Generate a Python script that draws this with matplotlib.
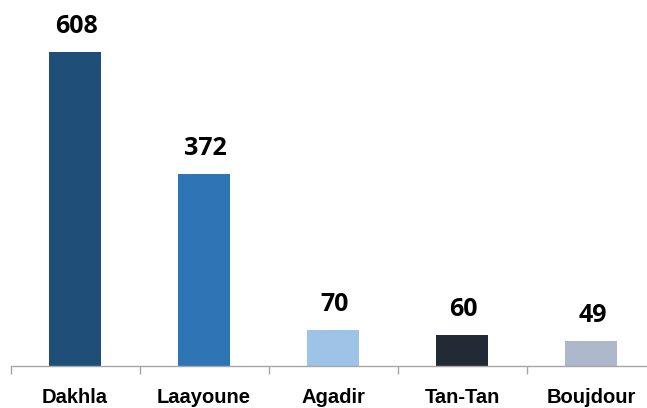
import numpy as np
import matplotlib.pyplot as plt

# categories and values
regions = ['Dakhla', 'Laayoune', 'Agadir', 'Tan-Tan', 'Boujdour']
counts = [608, 372, 70, 60, 49]
colors = ['#1F4E79', '#2E75B6', '#9DC3E6', '#222A35', '#ADB9CA']

fig = plt.figure(figsize=(6.47, 4.08), dpi=100)
ax = fig.add_axes([10.5 / 647, 42 / 408, 645 / 647, 366 / 408])

x = np.arange(len(regions))
ax.bar(x, counts, width=0.4, color=colors)

# value labels above bars
for xi, v in zip(x, counts):
    ax.annotate(str(v), (xi, v), xytext=(1, 13.7), textcoords='offset points',
                ha='center', va='baseline', fontsize=18, fontweight='bold',
                family=['Open Sans', 'DejaVu Sans'], color='black')

ax.set_xlim(-0.5, len(regions) - 0.5)
ax.set_ylim(0, 708)

# category labels, tick marks between categories
ax.set_xticks(x)
ax.set_xticklabels(regions, fontsize=14.5, fontweight='bold',
                   family=['Liberation Sans Narrow', 'Liberation Sans', 'DejaVu Sans'])
ax.tick_params(axis='x', which='major', length=0, pad=16)
ax.set_xticks(np.arange(len(regions) + 1) - 0.5, minor=True)
ax.tick_params(axis='x', which='minor', length=5.8, color='#a6a6a6', width=1)

ax.set_yticks([])
for s in ['left', 'right', 'top']:
    ax.spines[s].set_visible(False)
ax.spines['bottom'].set_color('#a6a6a6')
ax.spines['bottom'].set_linewidth(1)

plt.savefig('out.png', dpi=100)
